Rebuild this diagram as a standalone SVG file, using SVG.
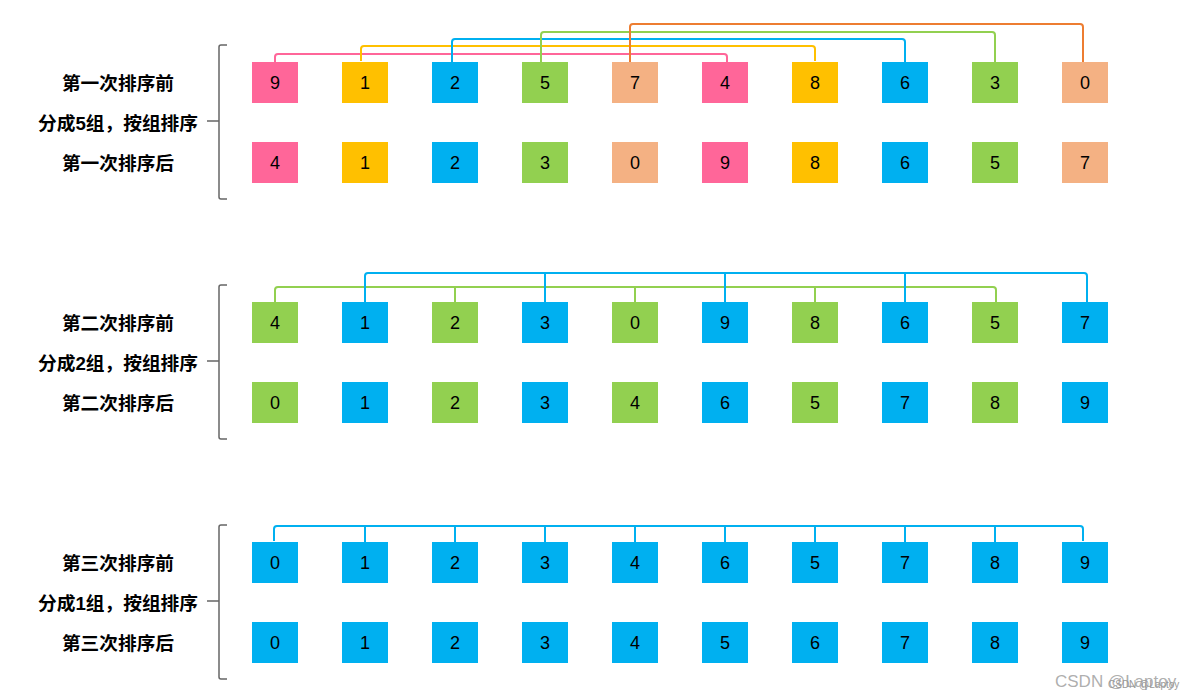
<svg xmlns="http://www.w3.org/2000/svg" width="1200" height="700" viewBox="0 0 1200 700">
<style>
.b{stroke:none}
.pk{fill:#FF6699}.yl{fill:#FFC000}.bl{fill:#00B0F0}.gr{fill:#92D050}.sa{fill:#F4B183}
.n{font-family:"Liberation Sans",Arial,sans-serif;font-size:18px;fill:#000;text-anchor:middle}
.lb{font-family:"Liberation Sans","Noto Sans CJK SC",sans-serif;font-size:18.7px;font-weight:bold;fill:#000;text-anchor:middle}
.c{fill:none;stroke-width:2;stroke-linejoin:round}
.br{fill:none;stroke:#666;stroke-width:1.5}
.wm{font-family:"Liberation Sans",Arial,sans-serif;fill:#999}
</style>
<defs>
<rect id="bx" width="46" height="41"/>
</defs>
<g id="connectors">
<path class="c" stroke="#FF6699" d="M275 62V57Q275 54 278 54H724Q727 54 727 57V62"/>
<path class="c" stroke="#FFC000" d="M361 61V49Q361 46 364 46H812Q815 46 815 49V61"/>
<path class="c" stroke="#00B0F0" d="M452 62V42Q452 39 455 39H902Q905 39 905 42V62"/>
<path class="c" stroke="#92D050" d="M541 62V35Q541 32 544 32H992Q995 32 995 35V62"/>
<path class="c" stroke="#ED7D31" d="M630 62V27Q630 24 633 24H1080Q1083 24 1083 27V62"/>
<path class="c" stroke="#92D050" d="M275 302V290Q275 287 278 287H993Q996 287 996 290V302M455 287V302M635 287V302M815 287V302"/>
<path class="c" stroke="#00B0F0" d="M365 302V276Q365 273 368 273H1084Q1087 273 1087 276V302M545 273V302M725 273V302M905 273V302"/>
<path class="c" stroke="#00B0F0" d="M274 541V529Q274 526 277 526H1080Q1083 526 1083 529V541M365 526V542M455 526V542M545 526V542M635 526V542M725 526V542M815 526V542M905 526V542M995 526V542"/>
</g>
<g id="braces">
<path class="br" d="M227 45H221Q219 45 219 47V197Q219 199 221 199H227M207 121H219"/>
<path class="br" d="M227 285H221Q219 285 219 287V437Q219 439 221 439H227M207 361H219"/>
<path class="br" d="M227 525H221Q219 525 219 527V677Q219 679 221 679H227M207 601H219"/>
</g>
<g id="labels">
<text class="lb" x="118" y="90">第一次排序前</text>
<text class="lb" x="118" y="130">分成5组，按组排序</text>
<text class="lb" x="118" y="170">第一次排序后</text>
<text class="lb" x="118" y="330">第二次排序前</text>
<text class="lb" x="118" y="370">分成2组，按组排序</text>
<text class="lb" x="118" y="410">第二次排序后</text>
<text class="lb" x="118" y="570">第三次排序前</text>
<text class="lb" x="118" y="610">分成1组，按组排序</text>
<text class="lb" x="118" y="650">第三次排序后</text>
</g>
<!-- Row 1 -->
<g id="r1n0"><use href="#bx" x="252" y="62" class="pk"/><text class="n" x="275" y="89">9</text></g>
<g id="r1n1"><use href="#bx" x="342" y="62" class="yl"/><text class="n" x="365" y="89">1</text></g>
<g id="r1n2"><use href="#bx" x="432" y="62" class="bl"/><text class="n" x="455" y="89">2</text></g>
<g id="r1n3"><use href="#bx" x="522" y="62" class="gr"/><text class="n" x="545" y="89">5</text></g>
<g id="r1n4"><use href="#bx" x="612" y="62" class="sa"/><text class="n" x="635" y="89">7</text></g>
<g id="r1n5"><use href="#bx" x="702" y="62" class="pk"/><text class="n" x="725" y="89">4</text></g>
<g id="r1n6"><use href="#bx" x="792" y="62" class="yl"/><text class="n" x="815" y="89">8</text></g>
<g id="r1n7"><use href="#bx" x="882" y="62" class="bl"/><text class="n" x="905" y="89">6</text></g>
<g id="r1n8"><use href="#bx" x="972" y="62" class="gr"/><text class="n" x="995" y="89">3</text></g>
<g id="r1n9"><use href="#bx" x="1062" y="62" class="sa"/><text class="n" x="1085" y="89">0</text></g>
<!-- Row 2 -->
<g id="r2n0"><use href="#bx" x="252" y="142" class="pk"/><text class="n" x="275" y="169">4</text></g>
<g id="r2n1"><use href="#bx" x="342" y="142" class="yl"/><text class="n" x="365" y="169">1</text></g>
<g id="r2n2"><use href="#bx" x="432" y="142" class="bl"/><text class="n" x="455" y="169">2</text></g>
<g id="r2n3"><use href="#bx" x="522" y="142" class="gr"/><text class="n" x="545" y="169">3</text></g>
<g id="r2n4"><use href="#bx" x="612" y="142" class="sa"/><text class="n" x="635" y="169">0</text></g>
<g id="r2n5"><use href="#bx" x="702" y="142" class="pk"/><text class="n" x="725" y="169">9</text></g>
<g id="r2n6"><use href="#bx" x="792" y="142" class="yl"/><text class="n" x="815" y="169">8</text></g>
<g id="r2n7"><use href="#bx" x="882" y="142" class="bl"/><text class="n" x="905" y="169">6</text></g>
<g id="r2n8"><use href="#bx" x="972" y="142" class="gr"/><text class="n" x="995" y="169">5</text></g>
<g id="r2n9"><use href="#bx" x="1062" y="142" class="sa"/><text class="n" x="1085" y="169">7</text></g>
<!-- Row 3 -->
<g id="r3n0"><use href="#bx" x="252" y="302" class="gr"/><text class="n" x="275" y="329">4</text></g>
<g id="r3n1"><use href="#bx" x="342" y="302" class="bl"/><text class="n" x="365" y="329">1</text></g>
<g id="r3n2"><use href="#bx" x="432" y="302" class="gr"/><text class="n" x="455" y="329">2</text></g>
<g id="r3n3"><use href="#bx" x="522" y="302" class="bl"/><text class="n" x="545" y="329">3</text></g>
<g id="r3n4"><use href="#bx" x="612" y="302" class="gr"/><text class="n" x="635" y="329">0</text></g>
<g id="r3n5"><use href="#bx" x="702" y="302" class="bl"/><text class="n" x="725" y="329">9</text></g>
<g id="r3n6"><use href="#bx" x="792" y="302" class="gr"/><text class="n" x="815" y="329">8</text></g>
<g id="r3n7"><use href="#bx" x="882" y="302" class="bl"/><text class="n" x="905" y="329">6</text></g>
<g id="r3n8"><use href="#bx" x="972" y="302" class="gr"/><text class="n" x="995" y="329">5</text></g>
<g id="r3n9"><use href="#bx" x="1062" y="302" class="bl"/><text class="n" x="1085" y="329">7</text></g>
<!-- Row 4 -->
<g id="r4n0"><use href="#bx" x="252" y="382" class="gr"/><text class="n" x="275" y="409">0</text></g>
<g id="r4n1"><use href="#bx" x="342" y="382" class="bl"/><text class="n" x="365" y="409">1</text></g>
<g id="r4n2"><use href="#bx" x="432" y="382" class="gr"/><text class="n" x="455" y="409">2</text></g>
<g id="r4n3"><use href="#bx" x="522" y="382" class="bl"/><text class="n" x="545" y="409">3</text></g>
<g id="r4n4"><use href="#bx" x="612" y="382" class="gr"/><text class="n" x="635" y="409">4</text></g>
<g id="r4n5"><use href="#bx" x="702" y="382" class="bl"/><text class="n" x="725" y="409">6</text></g>
<g id="r4n6"><use href="#bx" x="792" y="382" class="gr"/><text class="n" x="815" y="409">5</text></g>
<g id="r4n7"><use href="#bx" x="882" y="382" class="bl"/><text class="n" x="905" y="409">7</text></g>
<g id="r4n8"><use href="#bx" x="972" y="382" class="gr"/><text class="n" x="995" y="409">8</text></g>
<g id="r4n9"><use href="#bx" x="1062" y="382" class="bl"/><text class="n" x="1085" y="409">9</text></g>
<!-- Row 5 -->
<g id="r5n0"><use href="#bx" x="252" y="542" class="bl"/><text class="n" x="275" y="569">0</text></g>
<g id="r5n1"><use href="#bx" x="342" y="542" class="bl"/><text class="n" x="365" y="569">1</text></g>
<g id="r5n2"><use href="#bx" x="432" y="542" class="bl"/><text class="n" x="455" y="569">2</text></g>
<g id="r5n3"><use href="#bx" x="522" y="542" class="bl"/><text class="n" x="545" y="569">3</text></g>
<g id="r5n4"><use href="#bx" x="612" y="542" class="bl"/><text class="n" x="635" y="569">4</text></g>
<g id="r5n5"><use href="#bx" x="702" y="542" class="bl"/><text class="n" x="725" y="569">6</text></g>
<g id="r5n6"><use href="#bx" x="792" y="542" class="bl"/><text class="n" x="815" y="569">5</text></g>
<g id="r5n7"><use href="#bx" x="882" y="542" class="bl"/><text class="n" x="905" y="569">7</text></g>
<g id="r5n8"><use href="#bx" x="972" y="542" class="bl"/><text class="n" x="995" y="569">8</text></g>
<g id="r5n9"><use href="#bx" x="1062" y="542" class="bl"/><text class="n" x="1085" y="569">9</text></g>
<!-- Row 6 -->
<g id="r6n0"><use href="#bx" x="252" y="622" class="bl"/><text class="n" x="275" y="649">0</text></g>
<g id="r6n1"><use href="#bx" x="342" y="622" class="bl"/><text class="n" x="365" y="649">1</text></g>
<g id="r6n2"><use href="#bx" x="432" y="622" class="bl"/><text class="n" x="455" y="649">2</text></g>
<g id="r6n3"><use href="#bx" x="522" y="622" class="bl"/><text class="n" x="545" y="649">3</text></g>
<g id="r6n4"><use href="#bx" x="612" y="622" class="bl"/><text class="n" x="635" y="649">4</text></g>
<g id="r6n5"><use href="#bx" x="702" y="622" class="bl"/><text class="n" x="725" y="649">5</text></g>
<g id="r6n6"><use href="#bx" x="792" y="622" class="bl"/><text class="n" x="815" y="649">6</text></g>
<g id="r6n7"><use href="#bx" x="882" y="622" class="bl"/><text class="n" x="905" y="649">7</text></g>
<g id="r6n8"><use href="#bx" x="972" y="622" class="bl"/><text class="n" x="995" y="649">8</text></g>
<g id="r6n9"><use href="#bx" x="1062" y="622" class="bl"/><text class="n" x="1085" y="649">9</text></g>
<g id="watermark">
<text class="wm" x="1055" y="687" font-size="17" fill-opacity="0.8">CSDN @Laptoy</text>
<text class="wm" x="1108" y="688" font-size="10" fill="#777">CSDN @Laptoy</text>
</g>
</svg>
